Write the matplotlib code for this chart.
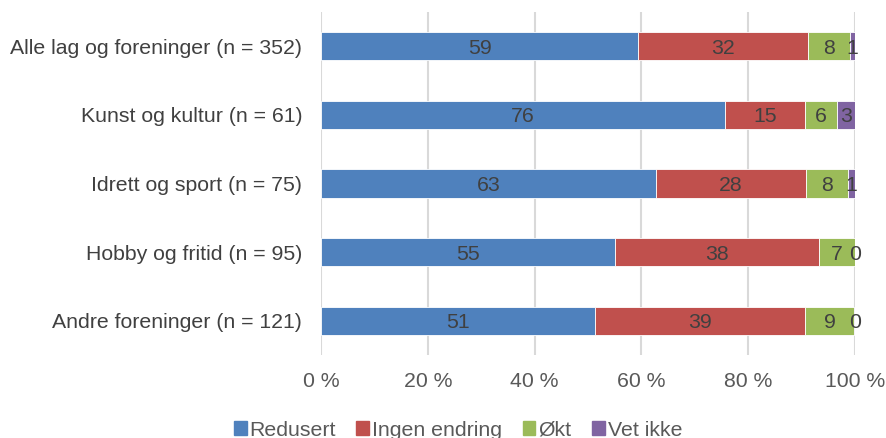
import matplotlib.pyplot as plt
import matplotlib.patches as mpatches
import numpy as np

plt.rcParams['font.family'] = ['Liberation Sans', 'DejaVu Sans']

categories = ['Alle lag og foreninger (n = 352)', 'Kunst og kultur (n = 61)',
              'Idrett og sport (n = 75)', 'Hobby og fritid (n = 95)',
              'Andre foreninger (n = 121)']
series = ['Redusert', 'Ingen endring', 'Økt', 'Vet ikke']
redusert = [59.4, 75.6, 62.7, 55.1, 51.3]
ingen_endring = [31.8, 15.1, 28.1, 38.2, 39.4]
okt = [7.9, 5.9, 7.9, 6.7, 9.2]
vet_ikke = [0.9, 3.4, 1.3, 0.0, 0.1]
colors = ['#4F81BD', '#C0504D', '#9BBB59', '#8064A2']

fs = 15.3
fig = plt.figure(figsize=(8.86, 4.38), dpi=100)
ax = fig.add_axes([321/886, 1-355/438, 534/886, 343/438])

y = np.arange(len(categories))
left = np.zeros(len(categories))
for vals, name, c in zip([redusert, ingen_endring, okt, vet_ikke], series, colors):
    vals = np.array(vals)
    ax.barh(y, vals, left=left, height=0.41, color=c, edgecolor='white',
            linewidth=0.6, label=name, zorder=3)
    for yi, l, v in zip(y, left, vals):
        ax.text(l + v/2, yi, '%.0f' % v, ha='center', va='center_baseline',
                fontsize=fs, color='#404040', zorder=4)
    left += vals

ax.set_ylim(len(categories)-0.5, -0.5)
ax.set_xlim(0, 100)
ax.set_yticks(y)
ax.set_yticklabels(categories, fontsize=fs, color='#404040')
ax.set_xticks(np.arange(0, 101, 20))
ax.set_xticklabels(['%d %%' % t for t in range(0, 101, 20)], fontsize=fs, color='#595959')
ax.tick_params(axis='y', length=0, pad=13.5)
ax.tick_params(axis='x', length=0, pad=12)
ax.grid(axis='x', color='#D9D9D9', linewidth=1.5, zorder=0)
for s in ax.spines.values():
    s.set_visible(False)

handles = [mpatches.Patch(color=c, label=n) for c, n in zip(colors, series)]
fig.legend(handles=handles, loc='center', bbox_to_anchor=(458/886, 1-430/438), ncol=4,
           frameon=False, fontsize=fs, handlelength=0.6, handleheight=0.6,
           handletextpad=0.15, columnspacing=0.95, labelcolor='#595959')

fig.savefig('out.png')
